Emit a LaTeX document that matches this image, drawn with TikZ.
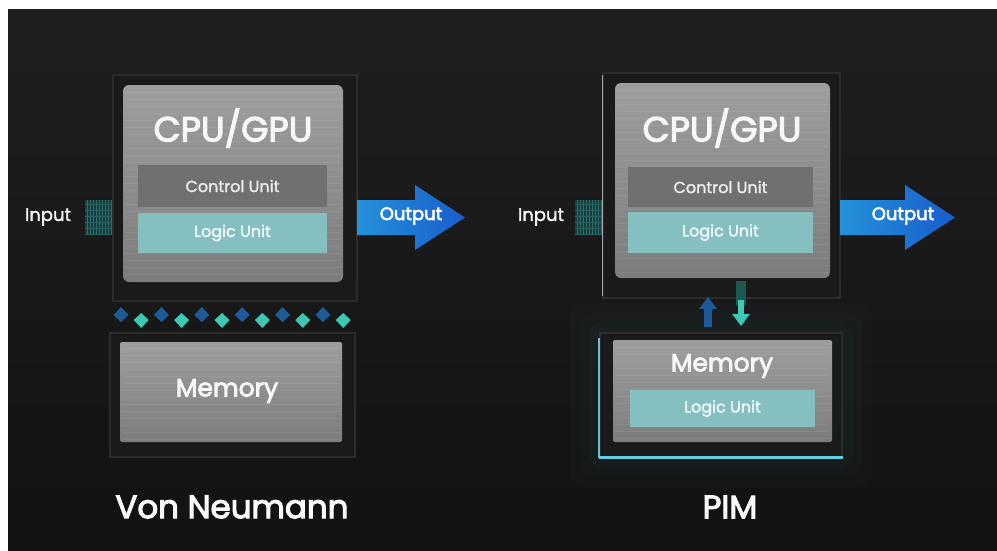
\documentclass[tikz,border=0pt]{standalone}
\usepackage{fontspec}
\setmainfont{Poppins}
\newfontfamily\medfont{Poppins}[FakeBold=3.2]
\newfontfamily\semifont{Poppins}[FakeBold=1.8]
\usetikzlibrary{arrows.meta}
\definecolor{bgtop}{HTML}{1F1F1F}
\definecolor{bgbot}{HTML}{121212}
\definecolor{framec}{HTML}{1A1A1A}
\definecolor{framedraw}{HTML}{2C2C2C}
\definecolor{graytop}{HTML}{9E9E9E}
\definecolor{graybot}{HTML}{7C7C7C}
\definecolor{ctrlc}{HTML}{707070}
\definecolor{logicc}{HTML}{86BFBF}
\definecolor{arrowL}{HTML}{2492DA}
\definecolor{arrowR}{HTML}{1A5CCC}
\definecolor{dblue}{HTML}{1D5A98}
\definecolor{dteal}{HTML}{3CC8B2}
\definecolor{hatchc}{HTML}{173E3E}
\definecolor{hatchl}{HTML}{2E6E6C}
\definecolor{glowc}{HTML}{62CFE2}
\tikzset{
  frame/.style={draw=framedraw, fill=framec, line width=1.2pt, inner sep=0pt},
  panel/.style={rounded corners=6pt, top color=graytop, bottom color=graybot, inner sep=0pt},
  ctrlband/.style={fill=ctrlc, inner sep=0pt, text=white!85!gray, font=\semifont\fontsize{16}{16}\selectfont},
  logicband/.style={fill=logicc, inner sep=0pt, text=white!94!cyan, font=\semifont\fontsize{16}{16}\selectfont},
  bigtitle/.style={text=white!94!gray, font=\medfont\fontsize{35}{35}\selectfont},
  memtitle/.style={text=white!94!gray, font=\medfont\fontsize{25}{25}\selectfont},
  sidelabel/.style={text=white!92!gray, font=\semifont\fontsize{18}{18}\selectfont},
  outlabel/.style={text=white, font=\medfont\fontsize{18}{18}\selectfont},
  caption/.style={text=white!96!gray, font=\medfont\fontsize{32.5}{32.5}\selectfont},
  brushed/.style={white, opacity=0.07, line width=0.6pt},
}
\begin{document}
\begin{tikzpicture}[x=1pt,y=-1pt]
\useasboundingbox (0,0) rectangle (997,550);
\fill[white] (0,0) rectangle (997,550);
\shade[top color=bgtop, bottom color=bgbot] (8,9) rectangle (997,550);

% ================= LEFT: Von Neumann =================
\node[frame, minimum width=244pt, minimum height=226pt] (cpuframeL) at (235,188) {};
\node[panel, minimum width=220pt, minimum height=197pt] (cpuL) at (233,183.5) {};
\foreach \yy in {92,99,...,280} \draw[brushed] (125,\yy) -- (341,\yy);
\node[bigtitle] (cputxtL) at (233,128) {CPU/GPU};
\node[ctrlband, minimum width=189pt, minimum height=42pt] (ctrlL) at (232.5,186) {Control Unit};
\node[logicband, minimum width=189pt, minimum height=40pt] (logicL) at (232.5,233) {Logic Unit};

% input hatch
\fill[hatchc] (85,200) rectangle (112,235);
\foreach \xx in {87,90,...,111} \draw[hatchl, line width=0.6pt] (\xx,200) -- (\xx,235);
\foreach \yy in {204,210,...,234} \draw[hatchl!70!hatchc, line width=0.4pt] (85,\yy) -- (112,\yy);
\node[sidelabel] (inL) at (48,217) {Input};

% output arrow
\shade[left color=arrowL, right color=arrowR] (357,200) -- (415,200) -- (415,185) -- (465,217.5) -- (415,250) -- (415,235) -- (357,235) -- cycle;
\node[outlabel] (outL) at (411,216) {Output};

% data movement row
\foreach \i in {0,...,11}{
  \pgfmathsetmacro{\xx}{121+20.2*\i}
  \ifodd\i
    \fill[dteal] (\xx,313) -- (\xx+7.5,320) -- (\xx,328) -- (\xx-7.5,320) -- cycle;
  \else
    \fill[dblue] (\xx,307) -- (\xx+7.5,315) -- (\xx,322) -- (\xx-7.5,315) -- cycle;
  \fi
}

% memory
\node[frame, minimum width=245pt, minimum height=124pt] (memframeL) at (232.5,395) {};
\node[panel, rounded corners=2pt, minimum width=222pt, minimum height=100pt] (memL) at (231,392) {};
\foreach \yy in {348,355,...,440} \draw[brushed] (122,\yy) -- (340,\yy);
\node[memtitle] (memtxtL) at (227,391) {Memory};

\node[caption] (capL) at (232,507) {Von Neumann};

% ================= RIGHT: PIM =================
\node[frame, minimum width=237pt, minimum height=225pt] (cpuframeR) at (721.5,185.5) {};
\draw[gray!70, line width=1.5pt] ([yshift=-3pt]cpuframeR.north west) -- ([yshift=3pt]cpuframeR.south west);
\node[panel, minimum width=215pt, minimum height=195pt] (cpuR) at (722.5,180.5) {};
\foreach \yy in {90,97,...,276} \draw[brushed] (617,\yy) -- (828,\yy);
\node[bigtitle] (cputxtR) at (722,128) {CPU/GPU};
\node[ctrlband, minimum width=185pt, minimum height=40pt] (ctrlR) at (720.5,187) {Control Unit};
\node[logicband, minimum width=185pt, minimum height=41pt] (logicR) at (720.5,232.5) {Logic Unit};

\fill[hatchc] (575,200) rectangle (602,235);
\foreach \xx in {577,580,...,601} \draw[hatchl, line width=0.6pt] (\xx,200) -- (\xx,235);
\foreach \yy in {204,210,...,234} \draw[hatchl!70!hatchc, line width=0.4pt] (575,\yy) -- (602,\yy);
\node[sidelabel] (inR) at (541,217) {Input};

\shade[left color=arrowL, right color=arrowR] (840,200) -- (905,200) -- (905,185) -- (955,217.5) -- (905,250) -- (905,235) -- (840,235) -- cycle;
\node[outlabel] (outR) at (903,216) {Output};

% memory with faint glow
\foreach \g/\o in {30/0.015,20/0.02,11/0.025}{
  \fill[glowc, opacity=\o, rounded corners=14pt] (600-\g,333-\g) rectangle (842+\g,457+\g);
}
\node[frame, minimum width=242pt, minimum height=124pt] (memframeR) at (721,395) {};
\node[panel, rounded corners=2pt, minimum width=219pt, minimum height=102pt] (memR) at (722.5,391) {};
\foreach \yy in {347,354,...,440} \draw[brushed] (615,\yy) -- (830,\yy);
\node[memtitle] (memtxtR) at (722,366) {Memory};
\node[logicband, minimum width=185pt, minimum height=37pt] (logicMR) at (722.5,408.5) {Logic Unit};
\draw[glowc!80!gray, line width=2pt] ([yshift=-6pt]memframeR.north west) -- (memframeR.south west);
\draw[glowc, line width=3pt] (memframeR.south west) -- (memframeR.south east);

% PIM short data paths
\coordinate (upS) at (708,327);
\coordinate (upT) at (708,297);
\coordinate (dnS) at (741,281);
\coordinate (dnM) at (741,305);
\coordinate (dnA) at (741,300);
\coordinate (dnT) at (741,326);
\draw[dblue, line width=8pt, -{Triangle[width=17pt,length=12pt]}] (upS) -- (upT);
\draw[dteal!45!black, line width=10pt] (dnS) -- (dnM);
\draw[dteal, line width=6pt, -{Triangle[width=17pt,length=12pt]}] (dnA) -- (dnT);

\node[caption] (capR) at (730,507) {PIM};
\end{tikzpicture}
\end{document}
